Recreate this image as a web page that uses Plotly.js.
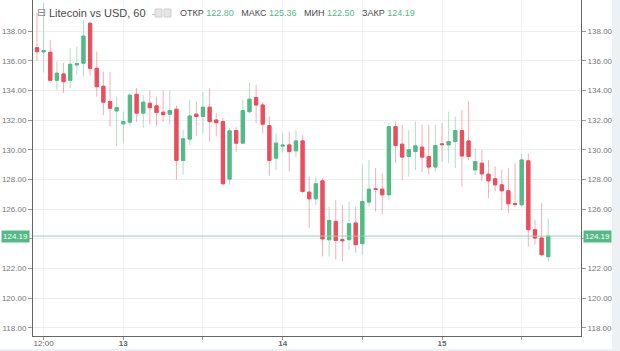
<!DOCTYPE html>
<html>
<head>
<meta charset="utf-8">
<script src="https://cdn.plot.ly/plotly-3.0.1.min.js"></script>
<style>
html,body{margin:0;padding:0;background:#fff;}
#chart{width:620px;height:351px;}
</style>
</head>
<body>
<div id="chart"></div>
<script>
// Hourly candles (Litecoin vs USD, 60 min), first candle at 12th 11:00
const seriesStart = '2018-05-12 11:00';
const opens  = [136.88,136.60,136.57,134.68,135.11,134.68,135.72,135.83,138.52,135.49,
                134.28,133.25,132.62,131.75,131.86,133.74,132.47,133.14,132.96,132.53,
                132.40,132.73,129.28,130.72,132.40,132.24,132.87,132.01,131.90,128.03,
                131.30,130.45,132.57,133.52,133.02,131.63,129.44,130.25,130.33,129.93,
                130.60,127.15,126.70,127.91,123.94,125.18,123.95,123.95,125.07,123.68,
                126.48,127.38,127.35,126.97,131.56,130.38,129.55,129.88,130.18,129.55,
                128.84,130.40,130.33,130.56,131.30,130.60,128.65,129.10,128.36,128.05,
                127.64,127.24,126.38,126.30,129.26,124.62,124.06,122.80];
const highs  = [139.20,139.90,137.40,135.94,135.85,136.86,136.94,138.74,138.62,136.61,
                135.26,135.26,133.58,132.57,133.80,134.17,133.70,134.00,133.58,134.00,
                134.00,133.00,131.34,133.36,133.25,133.92,134.15,132.49,132.15,131.48,
                131.56,133.36,134.52,134.37,133.25,132.24,131.12,131.14,131.23,131.30,
                131.00,128.20,128.20,128.09,126.18,126.63,126.30,126.52,126.18,129.00,
                129.32,128.77,128.43,131.80,131.90,131.68,131.34,131.90,131.70,131.68,
                131.68,131.80,132.57,132.24,132.70,133.30,130.10,130.00,129.32,128.87,
                128.65,128.77,129.10,129.77,129.77,125.29,126.41,125.36];
const lows   = [136.00,135.20,134.60,134.03,133.83,134.17,135.04,134.93,135.00,133.58,
                132.35,131.56,130.22,130.45,131.60,131.88,131.50,131.70,131.56,131.88,
                131.70,128.00,128.32,130.33,130.90,131.12,130.55,130.90,127.64,127.64,
                129.88,130.40,132.47,131.80,131.12,128.25,128.65,129.80,128.54,129.50,
                127.09,124.73,126.30,122.82,122.82,122.60,122.49,123.27,123.05,122.94,
                126.18,125.85,125.63,126.63,129.10,127.98,128.20,128.65,128.50,128.32,
                128.54,129.20,129.10,128.77,127.50,129.30,128.30,127.87,126.75,127.20,
                125.96,125.74,126.18,126.18,123.45,123.60,122.82,122.50];
const closes = [136.61,136.68,134.68,135.16,134.59,135.76,135.80,137.66,135.49,134.25,
                133.21,132.80,132.84,131.90,133.68,132.47,133.21,132.84,132.51,132.37,
                132.64,129.28,130.74,132.28,132.24,132.87,131.90,131.83,127.71,131.28,
                130.45,132.64,133.41,133.02,131.73,129.28,130.45,130.31,129.88,130.60,
                127.19,126.70,127.71,124.00,125.24,123.90,123.88,125.02,123.61,126.52,
                127.35,127.33,126.97,131.56,130.29,129.51,130.00,130.27,129.51,128.84,
                130.29,130.35,130.56,131.30,129.59,129.55,129.21,128.38,127.91,127.64,
                127.24,126.37,126.33,129.32,124.62,124.06,122.94,124.19];

const priceTicks    = [118,120,122,124,126,128,130,132,134,136,138];
const priceTickText = ['118.00','120.00','122.00','','126.00','128.00','130.00','132.00','134.00','136.00','138.00'];
const timeTickVals = ['2018-05-12 12:00','2018-05-13 00:00','2018-05-13 12:00','2018-05-14 00:00',
                      '2018-05-14 12:00','2018-05-15 00:00','2018-05-15 12:00'];
const timeTickText = ['12:00','<b>13</b>','','<b>14</b>','','<b>15</b>',''];
const xRange = ['2018-05-12 10:24','2018-05-15 20:56'];
const yRange = [117.46, 140.09];
const headerTitle = 'Litecoin vs USD, 60';
const headerLabels = ['ОТКР','МАКС','МИН','ЗАКР'];

// ---- build ----
const UP = '#53b987', DOWN = '#eb4d5c';
const UP_WICK = 'rgba(83,185,135,0.45)', DOWN_WICK = 'rgba(235,77,92,0.45)';

const t0 = new Date(seriesStart.replace(' ','T') + ':00Z').getTime();
const times = closes.map((_, i) => new Date(t0 + i*3600000).toISOString().slice(0,16).replace('T',' '));
const bodyHigh = opens.map((o, i) => Math.max(o, closes[i]));
const bodyLow  = opens.map((o, i) => Math.min(o, closes[i]));

const wicks = {
  type: 'candlestick', x: times, open: opens, high: highs, low: lows, close: closes,
  yaxis: 'y', hoverinfo: 'skip', whiskerwidth: 0,
  increasing: {line: {color: UP_WICK, width: 1}, fillcolor: 'rgba(0,0,0,0)'},
  decreasing: {line: {color: DOWN_WICK, width: 1}, fillcolor: 'rgba(0,0,0,0)'},
  showlegend: false
};
const bodies = {
  type: 'candlestick', x: times, open: opens, high: bodyHigh, low: bodyLow, close: closes,
  yaxis: 'y2', hoverinfo: 'skip', whiskerwidth: 0,
  increasing: {line: {color: UP, width: 1}, fillcolor: UP},
  decreasing: {line: {color: DOWN, width: 1}, fillcolor: DOWN},
  showlegend: false
};

const last = closes.length - 1;
const lastClose = closes[last];
const fmt = v => v.toFixed(2);

const tickFont = {family: 'Liberation Sans, Arial, sans-serif', size: 8, color: '#777'};
const yCommon = {
  range: yRange, tickvals: priceTicks, ticktext: priceTickText, fixedrange: true,
  showgrid: true, gridcolor: '#efefef', zeroline: false,
  showline: true, linecolor: '#666', linewidth: 1,
  ticks: 'outside', ticklen: 4, tickcolor: '#999', tickfont: tickFont
};

const pyToPaper = py => (336 - py) / 336;
const pxToPaper = px => (px - 33) / 548;

const sp = '\u00a0';
const valSpan = v => '<span style="color:' + UP + '">' + fmt(v) + '</span>';
const ohlcText = headerLabels[0] + sp + valSpan(opens[last]) + sp+sp+sp +
                 headerLabels[1] + sp + valSpan(highs[last]) + sp+sp+sp +
                 headerLabels[2] + sp + valSpan(lows[last]) + sp+sp+sp +
                 headerLabels[3] + sp + valSpan(closes[last]);

const layout = {
  width: 620, height: 351,
  margin: {l: 33, r: 39, t: 0, b: 15, pad: 0},
  paper_bgcolor: '#ffffff', plot_bgcolor: '#ffffff',
  showlegend: false,
  xaxis: {
    type: 'date', range: xRange, fixedrange: true,
    rangeslider: {visible: false},
    tickvals: timeTickVals, ticktext: timeTickText,
    showgrid: true, gridcolor: '#f3f3f3', zeroline: false,
    showline: true, linecolor: '#666', linewidth: 1,
    ticks: 'outside', ticklen: 3, tickcolor: '#999', ticklabelstandoff: -4,
    tickfont: {family: 'Liberation Sans, Arial, sans-serif', size: 8, color: '#666'}
  },
  yaxis: Object.assign({side: 'left'}, yCommon),
  yaxis2: Object.assign({side: 'right', overlaying: 'y', showgrid: false}, yCommon),
  shapes: [
    {type: 'line', xref: 'paper', yref: 'y', x0: 0, x1: 1, y0: lastClose, y1: lastClose,
     line: {color: '#8fd3b8', width: 1}, layer: 'above'},
    {type: 'rect', xref: 'paper', yref: 'paper', x0: pxToPaper(612), x1: pxToPaper(622),
     y0: pyToPaper(352), y1: pyToPaper(-2), fillcolor: '#eef1f4', line: {width: 0}, layer: 'below'},
    {type: 'rect', xref: 'paper', yref: 'paper', x0: pxToPaper(-2), x1: pxToPaper(622),
     y0: pyToPaper(352), y1: pyToPaper(349), fillcolor: '#eef1f4', line: {width: 0}, layer: 'below'},
    {type: 'rect', xref: 'paper', yref: 'paper', x0: pxToPaper(155), x1: pxToPaper(162),
     y0: pyToPaper(17), y1: pyToPaper(9), fillcolor: '#e6e6e6', line: {color: '#cfcfcf', width: 1}},
    {type: 'rect', xref: 'paper', yref: 'paper', x0: pxToPaper(164), x1: pxToPaper(171),
     y0: pyToPaper(17), y1: pyToPaper(9), fillcolor: '#e6e6e6', line: {color: '#cfcfcf', width: 1}}
  ],
  annotations: [
    {xref: 'paper', yref: 'y', x: 0, y: lastClose, xanchor: 'right', yanchor: 'middle',
     xshift: -3, text: fmt(lastClose), showarrow: false, bgcolor: UP, borderpad: 1,
     font: {family: 'Liberation Sans, Arial, sans-serif', size: 8, color: '#ffffff'}},
    {xref: 'paper', yref: 'y', x: 1, y: lastClose, xanchor: 'left', yanchor: 'middle',
     xshift: 2, text: fmt(lastClose), showarrow: false, bgcolor: UP, borderpad: 1,
     font: {family: 'Liberation Sans, Arial, sans-serif', size: 8, color: '#ffffff'}},
    {xref: 'paper', yref: 'paper', x: pxToPaper(41), y: pyToPaper(13), xanchor: 'center', yanchor: 'middle',
     text: '⊟', showarrow: false,
     font: {family: 'DejaVu Sans, sans-serif', size: 11, color: '#8a8a8a'}},
    {xref: 'paper', yref: 'paper', x: pxToPaper(47), y: pyToPaper(13), xanchor: 'left', yanchor: 'middle',
     text: headerTitle + sp + sp + '<span style="color:#b5b5b5">-</span>', showarrow: false,
     font: {family: 'Liberation Sans, Arial, sans-serif', size: 11, color: '#4a4a4a'}},
    {xref: 'paper', yref: 'paper', x: pxToPaper(178), y: pyToPaper(13), xanchor: 'left', yanchor: 'middle',
     text: ohlcText, showarrow: false,
     font: {family: 'Liberation Sans, Arial, sans-serif', size: 9, color: '#4a4a4a'}}
  ]
};

Plotly.newPlot('chart', [wicks, bodies], layout, {displayModeBar: false, staticPlot: true});
</script>
</body>
</html>
